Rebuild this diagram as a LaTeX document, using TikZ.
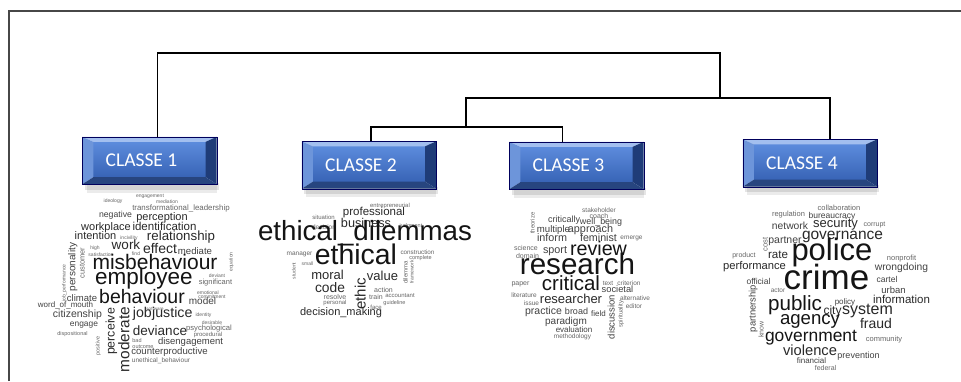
\documentclass[tikz,border=0pt]{standalone}
\usepackage{fontspec}
\setmainfont{Liberation Sans}
\newfontfamily\boxfont{Carlito}
\usetikzlibrary{calc}
\definecolor{facetop}{HTML}{5C8BDC}
\definecolor{facebot}{HTML}{3864B6}
\definecolor{bevtop}{HTML}{A3BFEF}
\definecolor{bevleft}{HTML}{6D95DA}
\definecolor{bevright}{HTML}{1F3C78}
\definecolor{bevbot}{HTML}{27457F}
\tikzset{
  cbox/.style={rectangle, minimum width=134pt, minimum height=47pt, inner sep=0pt},
  clabel/.style={text=white, font=\boxfont\fontsize{19.5}{19.5}\selectfont, inner sep=0pt},
  link/.style={draw=black, line width=1.3pt},
  frame/.style={draw=black!72, line width=2pt},
  wc/.style={inner sep=0pt, anchor=mid},
}
\newcommand\wcw[5][]{%
  \pgfmathtruncatemacro\wcsh{#4>=17?92:(#4>=11?84:(#4>=8?74:60))}%
  \node[wc,text=black!\wcsh,font=\fontsize{#4}{#4}\selectfont,#1] at (#2,#3) {#5};}
\newcommand\classbox[4]{% name, center x, center y, label
  \fill[black,opacity=0.10] ($(#2,#3)+(-65,22)$) rectangle ($(#2,#3)+(69,29)$);
  \fill[black,opacity=0.08] ($(#2,#3)+(-63,22)$) rectangle ($(#2,#3)+(67,32)$);
  \node[cbox] (#1) at (#2,#3) {};
  \coordinate (#1nw) at ($(#1.north west)+(11,5)$);
  \coordinate (#1ne) at ($(#1.north east)+(-11,5)$);
  \coordinate (#1sw) at ($(#1.south west)+(11,-7)$);
  \coordinate (#1se) at ($(#1.south east)+(-11,-7)$);
  \shade[top color=facetop,bottom color=facebot] (#1nw) rectangle (#1se);
  \fill[bevtop] (#1.north west) -- (#1.north east) -- (#1ne) -- (#1nw) -- cycle;
  \fill[bevleft] (#1.north west) -- (#1nw) -- (#1sw) -- (#1.south west) -- cycle;
  \fill[bevright] (#1.north east) -- (#1ne) -- (#1se) -- (#1.south east) -- cycle;
  \fill[bevbot] (#1.south west) -- (#1sw) -- (#1se) -- (#1.south east) -- cycle;
  \draw[black!40!blue!60!black,line width=0.4pt] (#1.north west) rectangle (#1.south east);
  \node[clabel] at ([xshift=-8pt]#1.center) {#4};
}
\begin{document}
\begin{tikzpicture}[x=1pt,y=-1pt]
\useasboundingbox (0,0) rectangle (961,381);
\fill[white] (0,0) rectangle (961,381);
\draw[frame] (8.5,381) -- (8.5,11) -- (961,11);

% class boxes
\classbox{c1}{149.5}{160.5}{CLASSE 1}
\classbox{c2}{369}{165}{CLASSE 2}
\classbox{c3}{576.5}{165.5}{CLASSE 3}
\classbox{c4}{810}{163}{CLASSE 4}

% dendrogram
\coordinate (r) at (720,53);
\coordinate (j234) at (720,98);
\coordinate (b2) at (466,98);
\coordinate (b2r) at (830,98);
\coordinate (j23) at (466,127);
\draw[link] ([xshift=8pt]c1.north) |- (r) -- (j234);
\draw[link] (j23) -- (b2) -- (b2r) -- ([xshift=20pt]c4.north);
\draw[link] ([xshift=2pt]c2.north) |- (j23) -| ([xshift=-14pt]c3.north);

% cloud 1
\wcw{150}{195}{5}{engagement}
\wcw{113}{200}{5}{ideology}
\wcw{167}{201}{5}{mediation}
\wcw{181}{208}{7.9}{transformational\_leadership}
\wcw{115.5}{215}{8.7}{negative}
\wcw{162}{218}{11}{perception}
\wcw{106}{228}{11}{workplace}
\wcw{164.5}{228}{11.5}{identification}
\wcw{95.5}{237}{11}{intention}
\wcw{129}{237}{5}{incivility}
\wcw{181}{238}{13.3}{relationship}
\wcw[rotate=90]{72.7}{267}{10}{personality}
\wcw[rotate=90]{63}{283}{5}{job\_performance}
\wcw[rotate=90]{82}{263}{7.5}{customer}
\wcw{95}{247}{5}{high}
\wcw{101}{254}{5}{satisfaction}
\wcw{126}{247}{13.5}{work}
\wcw{136}{253}{5}{find}
\wcw{160}{251}{14}{effect}
\wcw{195}{252}{9.6}{mediate}
\wcw[rotate=90]{230}{262}{5}{equation}
\wcw{155}{267}{21}{misbehaviour}
\wcw{144}{282}{22.5}{employee}
\wcw{217}{275}{5}{deviant}
\wcw{215.5}{282}{7.5}{significant}
\wcw{208}{292}{5}{emotional}
\wcw{212}{296}{5}{commitment}
\wcw{82}{299}{9.5}{climate}
\wcw{65.5}{305}{8}{word\_of\_mouth}
\wcw{142}{300.7}{19.5}{behaviour}
\wcw{202.5}{302}{10}{model}
\wcw{155}{308}{4.5}{software}
\wcw{77.5}{315}{10.5}{citizenship}
\wcw[rotate=90]{112}{331.5}{12.4}{perceive}
\wcw[rotate=90]{126.7}{339.5}{15.4}{moderate}
\wcw[anchor=mid east]{152}{315}{14.2}{job}
\wcw[anchor=mid west]{152}{315}{14.2}{justice}
\wcw{203.5}{314}{5}{identity}
\wcw{84}{324}{8.4}{engage}
\wcw{212}{322}{5}{desirable}
\wcw{209}{328}{7.6}{psychological}
\wcw{72.5}{333}{5.5}{dispositional}
\wcw{160}{333}{13.5}{deviance}
\wcw{208}{333.5}{6}{procedural}
\wcw[rotate=90]{97}{346}{5.5}{positive}
\wcw{137}{340}{5.5}{bad}
\wcw{143}{346}{5.5}{outcome}
\wcw{190.5}{342}{9.5}{disengagement}
\wcw{169.5}{352}{9.6}{counterproductive}
\wcw{161}{360}{6.5}{unethical\_behaviour}

% cloud 2
\wcw{390}{205}{5.9}{entrepreneurial}
\wcw{323.5}{217}{6}{situation}
\wcw{374}{213}{11.5}{professional}
\wcw{411}{225}{5.5}{judgment}
\wcw{324}{227}{6.5}{decision}
\wcw{366}{225}{12.7}{business}
\wcw{365}{238}{27.7}{ethical\_dilemmas}
\wcw{299.5}{253}{6.5}{manager}
\wcw{307.5}{263}{5}{small}
\wcw[rotate=90]{293}{271}{5}{student}
\wcw{356}{262}{28.4}{ethical}
\wcw{417.5}{252}{6.3}{construction}
\wcw{420.5}{257}{5.5}{complete}
\wcw[rotate=90]{405}{272.5}{6}{dilemma}
\wcw[rotate=90]{411}{272}{5}{framework}
\wcw{327.5}{277}{13}{moral}
\wcw{382.5}{278}{13}{value}
\wcw[rotate=90]{363}{294}{15}{ethic}
\wcw{330}{290}{13.8}{code}
\wcw{383.5}{290}{7}{action}
\wcw{335}{297}{7}{resolve}
\wcw{376}{297}{7}{train}
\wcw{400}{295}{6}{accountant}
\wcw{335}{302}{6}{personal}
\wcw{394.5}{302}{5.5}{guideline}
\wcw{376}{307}{6}{face}
\wcw{341}{312.5}{11}{decision\_making}

% cloud 3
\wcw{599}{210}{6.5}{stakeholder}
\wcw{599}{216}{7}{coach}
\wcw[rotate=90]{532}{223}{6}{theorize}
\wcw{564}{220}{9}{critically}
\wcw{601}{222}{8.9}{well\_being}
\wcw{553.5}{230}{9.6}{multiple}
\wcw{590.5}{230}{10.8}{approach}
\wcw{552}{239}{10.8}{inform}
\wcw{598.5}{239}{10.7}{feminist}
\wcw{631.5}{237}{6.5}{emerge}
\wcw{526}{248}{7}{science}
\wcw{527.5}{256}{7}{domain}
\wcw{555}{251}{10.8}{sport}
\wcw{598.5}{253}{19.7}{review}
\wcw{577.5}{272}{29.6}{research}
\wcw{520.5}{283}{7}{paper}
\wcw{608}{283}{6.5}{text}
\wcw{629}{283}{6.5}{criterion}
\wcw{571}{288}{20.5}{critical}
\wcw{617.5}{290}{9.3}{societal}
\wcw{524}{295}{6.5}{literature}
\wcw{531.5}{303}{6.5}{issue}
\wcw{571}{301}{13}{researcher}
\wcw[rotate=90]{612}{317}{9.5}{discussion}
\wcw[rotate=90]{620}{314}{6}{spirituality}
\wcw{635}{298}{6.5}{alternative}
\wcw{634}{306}{6.5}{editor}
\wcw{543.5}{312}{10.5}{practice}
\wcw{576.5}{312}{9}{broad}
\wcw{598.5}{314}{8}{field}
\wcw{566}{322}{10}{paradigm}
\wcw{574}{330}{8}{evaluation}
\wcw{572.5}{336}{6.5}{methodology}

% cloud 4
\wcw{839}{208}{7.5}{collaboration}
\wcw{788.5}{214}{7.5}{regulation}
\wcw{832}{216}{8.5}{bureaucracy}
\wcw{790}{227}{10.3}{network}
\wcw{835.5}{225}{13}{security}
\wcw{874.5}{224}{7}{corrupt}
\wcw[rotate=90]{765}{244.5}{7.5}{cost}
\wcw{785}{241}{10.5}{partner}
\wcw{842.5}{237}{15.5}{governance}
\wcw{744}{255}{7}{product}
\wcw{778}{256}{11.6}{rate}
\wcw{832}{258}{31}{police}
\wcw{901.5}{258}{7.5}{nonprofit}
\wcw{754.5}{267}{11.2}{performance}
\wcw{901.5}{268}{10.3}{wrongdoing}
\wcw{758.5}{282}{8.5}{official}
\wcw[rotate=90]{753}{308.5}{9.4}{partnership}
\wcw{778}{290}{6.5}{actor}
\wcw{826.5}{287}{35}{crime}
\wcw{887}{280}{8.5}{cartel}
\wcw{893.5}{291}{9.5}{urban}
\wcw{901.5}{301}{11.5}{information}
\wcw{845}{302}{8}{policy}
\wcw{795}{308}{20.6}{public}
\wcw{832.5}{312}{12}{city}
\wcw{867.5}{312}{16}{system}
\wcw[rotate=90]{761}{329.5}{7}{know}
\wcw{810}{322}{18.6}{agency}
\wcw{876}{326}{14}{fraud}
\wcw{811}{339}{17.4}{government}
\wcw{884}{339}{7.5}{community}
\wcw{810}{353}{14.7}{violence}
\wcw{858.5}{356}{9}{prevention}
\wcw{811.5}{361}{8}{financial}
\wcw{825.5}{368}{7}{federal}
\end{tikzpicture}
\end{document}
